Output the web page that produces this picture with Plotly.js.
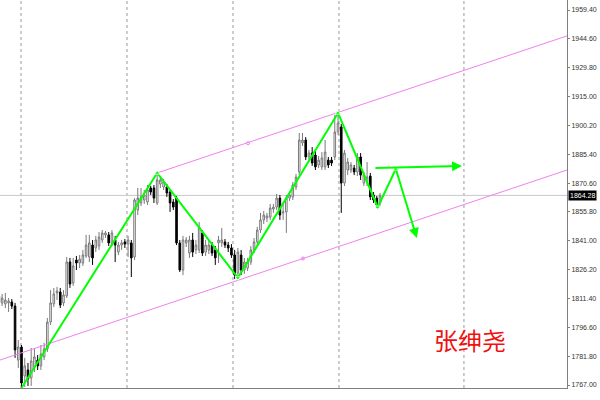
<!DOCTYPE html>
<html>
<head>
<meta charset="utf-8">
<script src="https://cdn.plot.ly/plotly-3.0.1.min.js"></script>
<style>html,body{margin:0;padding:0;background:#fff;}#chart{width:600px;height:400px;}</style>
</head>
<body>
<div id="chart"></div>
<script>
// ---- data ----
const opens = [1809.6,1809.1,1808.6,1809.1,1809.6,1807.5,1779.8,1786.5,1771.6,1774.7,1770.6,1776.2,1779.8,1776.8,1781.4,1785.5,1799.3,1808.6,1814.2,1814.7,1809.1,1812.7,1830.1,1819.3,1831.1,1829.6,1829.6,1833.2,1832.7,1838.8,1837.3,1838.3,1841.4,1844.0,1844.0,1839.9,1841.4,1835.2,1838.8,1840.4,1839.3,1839.9,1832.7,1856.8,1860.4,1861.9,1860.9,1868.1,1868.1,1860.4,1870.1,1868.6,1868.6,1866.0,1860.9,1862.9,1839.9,1826.0,1839.9,1834.7,1841.4,1836.3,1836.3,1845.0,1835.2,1836.3,1838.8,1836.3,1839.9,1839.9,1840.4,1838.8,1837.3,1833.7,1824.5,1833.7,1826.0,1827.0,1830.1,1836.3,1840.4,1846.5,1851.7,1852.7,1853.2,1857.3,1858.3,1862.9,1855.3,1855.8,1862.9,1863.5,1868.6,1876.3,1891.2,1892.7,1884.0,1886.0,1885.0,1879.9,1878.9,1878.9,1882.4,1882.4,1884.0,1896.8,1899.4,1870.6,1877.3,1877.3,1878.3,1876.3,1884.0,1870.6,1871.2,1874.2,1864.5,1862.9,1860.4];
const highs = [1814.7,1813.7,1814.2,1811.6,1811.1,1809.1,1790.1,1787.5,1780.9,1778.3,1786.0,1786.0,1782.4,1787.5,1788.6,1801.4,1815.7,1816.8,1817.3,1816.8,1815.7,1832.7,1832.2,1832.2,1833.2,1833.7,1836.3,1844.0,1844.0,1841.4,1843.5,1845.5,1846.5,1846.0,1845.5,1846.5,1843.5,1840.4,1841.4,1841.9,1843.5,1841.4,1862.9,1868.1,1868.1,1867.1,1869.6,1869.1,1869.6,1875.8,1874.2,1872.7,1870.1,1867.6,1862.4,1864.0,1841.4,1843.5,1842.9,1843.5,1845.0,1841.4,1850.6,1846.5,1841.4,1841.4,1840.4,1838.3,1843.5,1847.6,1841.9,1840.4,1839.3,1836.3,1837.3,1836.3,1832.2,1832.2,1838.3,1842.4,1848.1,1855.3,1856.3,1855.3,1859.9,1859.9,1865.0,1864.5,1860.4,1864.5,1866.0,1871.2,1875.3,1896.3,1896.3,1894.2,1887.6,1889.1,1887.6,1884.5,1886.5,1892.7,1884.0,1884.0,1905.5,1906.6,1900.9,1887.6,1883.5,1881.4,1879.9,1886.0,1886.0,1876.3,1881.4,1875.8,1866.0,1864.0,1865.5];
const lows = [1807.5,1807.5,1806.5,1804.5,1806.0,1780.9,1775.7,1765.5,1766.0,1766.5,1766.5,1773.7,1774.7,1774.7,1779.8,1783.9,1797.8,1807.0,1810.6,1806.5,1807.5,1811.6,1816.8,1817.8,1826.0,1827.0,1828.1,1832.2,1830.1,1828.6,1835.2,1836.3,1839.9,1842.4,1838.3,1838.3,1830.1,1833.7,1836.3,1837.3,1832.7,1822.4,1831.1,1854.2,1858.8,1859.9,1859.4,1864.5,1860.4,1859.4,1868.1,1867.1,1863.5,1855.8,1856.8,1838.8,1825.0,1823.4,1837.8,1832.2,1832.7,1834.2,1834.7,1833.2,1833.2,1834.2,1833.2,1828.6,1829.6,1837.8,1837.3,1835.2,1832.2,1821.4,1821.9,1823.4,1824.0,1825.5,1828.6,1834.7,1838.8,1845.0,1849.6,1850.6,1851.7,1855.3,1856.8,1851.7,1851.7,1845.0,1861.4,1861.9,1867.1,1874.7,1889.6,1882.4,1882.4,1879.4,1877.3,1878.3,1877.3,1877.3,1878.3,1879.4,1882.4,1895.3,1855.3,1869.1,1874.7,1875.8,1874.7,1874.2,1872.2,1869.1,1869.1,1861.9,1860.4,1857.8,1858.8];
const closes = [1812.7,1811.6,1810.6,1810.1,1807.5,1785.0,1786.5,1768.0,1776.8,1770.1,1779.3,1781.4,1776.8,1782.9,1785.5,1799.3,1809.1,1813.7,1815.2,1808.0,1813.2,1830.1,1818.8,1828.1,1829.6,1831.6,1833.7,1838.8,1839.9,1832.2,1841.4,1842.9,1845.0,1845.0,1839.9,1845.0,1838.8,1838.8,1839.9,1839.3,1841.4,1832.2,1861.9,1862.9,1863.5,1864.5,1867.1,1866.0,1862.9,1872.2,1872.2,1871.2,1865.5,1860.4,1858.3,1839.9,1826.0,1841.4,1841.4,1841.4,1835.2,1838.8,1848.1,1834.7,1838.8,1838.8,1834.7,1832.2,1841.4,1841.4,1838.8,1837.3,1833.7,1823.4,1835.2,1826.0,1830.1,1830.1,1836.3,1840.4,1846.5,1851.7,1854.2,1853.7,1857.8,1858.3,1862.9,1854.2,1855.8,1862.9,1864.5,1869.6,1873.7,1892.7,1892.7,1884.0,1886.0,1880.9,1878.9,1882.4,1883.5,1886.5,1879.9,1880.9,1896.8,1901.4,1870.6,1886.0,1881.4,1879.9,1876.3,1884.0,1874.7,1874.7,1873.7,1863.5,1861.9,1859.4,1864.28];
const lastPrice = 1864.28;

const yTicks = [1767.00,1781.80,1796.60,1811.40,1826.20,1841.00,1855.80,1870.60,1885.40,1900.20,1915.00,1929.80,1944.60,1959.40];

// zigzag (green) pivots
const zigX = [7, 49, 74, 105, 117.3, 122.9];
const zigY = [1765.5, 1875.8, 1822.0, 1906.6, 1858.2, 1877.8];
// projections
const downArrow = {fromX: 122.9, fromY: 1877.8, toX: 129.4, toY: 1842.4};
const flatArrow = {fromX: 116.1, fromY: 1878.3, toX: 143.4, toY: 1879.4};
// channel (violet)
const upperX = [49, 175.9], upperY = [1875.8, 1946.1];
const lowerX = [0.34, 175.9], lowerY = [1779.8, 1877.3];
const anchorX = [77.1, 94.15], anchorY = [1891.0, 1831.9];
// vertical separators
const sepX = [6.84, 39.66, 72.48, 105.3, 143.99];

const idx = opens.map((_, i) => i);

const traces = [
  {
    type: 'candlestick', x: idx, open: opens, high: highs, low: lows, close: closes,
    increasing: {line: {color: '#7a7a7a', width: 1}, fillcolor: '#ffffff'},
    decreasing: {line: {color: '#000000', width: 1}, fillcolor: '#000000'},
    whiskerwidth: 0, hoverinfo: 'skip', showlegend: false
  },
  {type: 'scatter', mode: 'lines', x: upperX, y: upperY, line: {color: '#ee82ee', width: 1}, hoverinfo: 'skip', showlegend: false},
  {type: 'scatter', mode: 'lines', x: lowerX, y: lowerY, line: {color: '#ee82ee', width: 1}, hoverinfo: 'skip', showlegend: false},
  {type: 'scatter', mode: 'markers', x: anchorX, y: anchorY, marker: {symbol: 'circle-open', size: 3, color: '#ee82ee', line: {width: 1}}, hoverinfo: 'skip', showlegend: false},
  {type: 'scatter', mode: 'lines+markers', x: zigX, y: zigY,
    line: {color: '#00ff00', width: 2},
    marker: {size: [0, 5, 5, 5, 5, 5], symbol: ['circle', 'triangle-up', 'triangle-down', 'triangle-up', 'triangle-down', 'triangle-up'], color: '#00ff00'},
    hoverinfo: 'skip', showlegend: false}
];

const shapes = sepX.map(x => ({type: 'line', xref: 'x', yref: 'paper', x0: x, x1: x, y0: 0, y1: 1, line: {color: '#9a9a9a', width: 1, dash: 'dot'}, layer: 'below'}));
shapes.push({type: 'line', xref: 'paper', yref: 'y', x0: 0, x1: 1, y0: lastPrice, y1: lastPrice, line: {color: '#c8c8c8', width: 1}, layer: 'below'});

const annotations = [
  {x: downArrow.toX, y: downArrow.toY, ax: downArrow.fromX, ay: downArrow.fromY, xref: 'x', yref: 'y', axref: 'x', ayref: 'y', text: '', showarrow: true, arrowhead: 2, arrowsize: 1, arrowwidth: 2, arrowcolor: '#00ff00'},
  {x: flatArrow.toX, y: flatArrow.toY, ax: flatArrow.fromX, ay: flatArrow.fromY, xref: 'x', yref: 'y', axref: 'x', ayref: 'y', text: '', showarrow: true, arrowhead: 2, arrowsize: 1, arrowwidth: 2, arrowcolor: '#00ff00'},
  {x: 1, xref: 'paper', xanchor: 'left', xshift: 1, y: lastPrice, yref: 'y', yanchor: 'middle', text: lastPrice.toFixed(2), showarrow: false, bgcolor: '#000000', borderpad: 1, font: {family: 'Liberation Sans, Arial, sans-serif', size: 7, color: '#ffffff'}},
  {x: 0.829, y: 0.124, xref: 'paper', yref: 'paper', xanchor: 'center', yanchor: 'middle', text: '张绅尧', showarrow: false, font: {family: 'Noto Sans CJK SC, sans-serif', size: 24, color: '#f01010'}}
];

const layout = {
  width: 600, height: 400,
  margin: {l: 0, r: 33, t: 0, b: 12, pad: 0},
  paper_bgcolor: '#ffffff', plot_bgcolor: '#ffffff',
  showlegend: false,
  xaxis: {range: [0.34, 175.9], showgrid: false, zeroline: false, showticklabels: false, ticks: '', showline: true, linecolor: '#808080', linewidth: 1, rangeslider: {visible: false}, fixedrange: true},
  yaxis: {side: 'right', range: [1765.46, 1964.53], showgrid: false, zeroline: false,
    tickvals: yTicks, ticktext: yTicks.map(v => v.toFixed(2)), ticks: 'outside', ticklen: 2, tickcolor: '#808080',
    showline: true, linecolor: '#808080', linewidth: 1,
    tickfont: {family: 'Liberation Sans, Arial, sans-serif', size: 7, color: '#333333'}, fixedrange: true},
  shapes: shapes,
  annotations: annotations
};

Plotly.newPlot('chart', traces, layout, {displayModeBar: false, staticPlot: true});
</script>
</body>
</html>
